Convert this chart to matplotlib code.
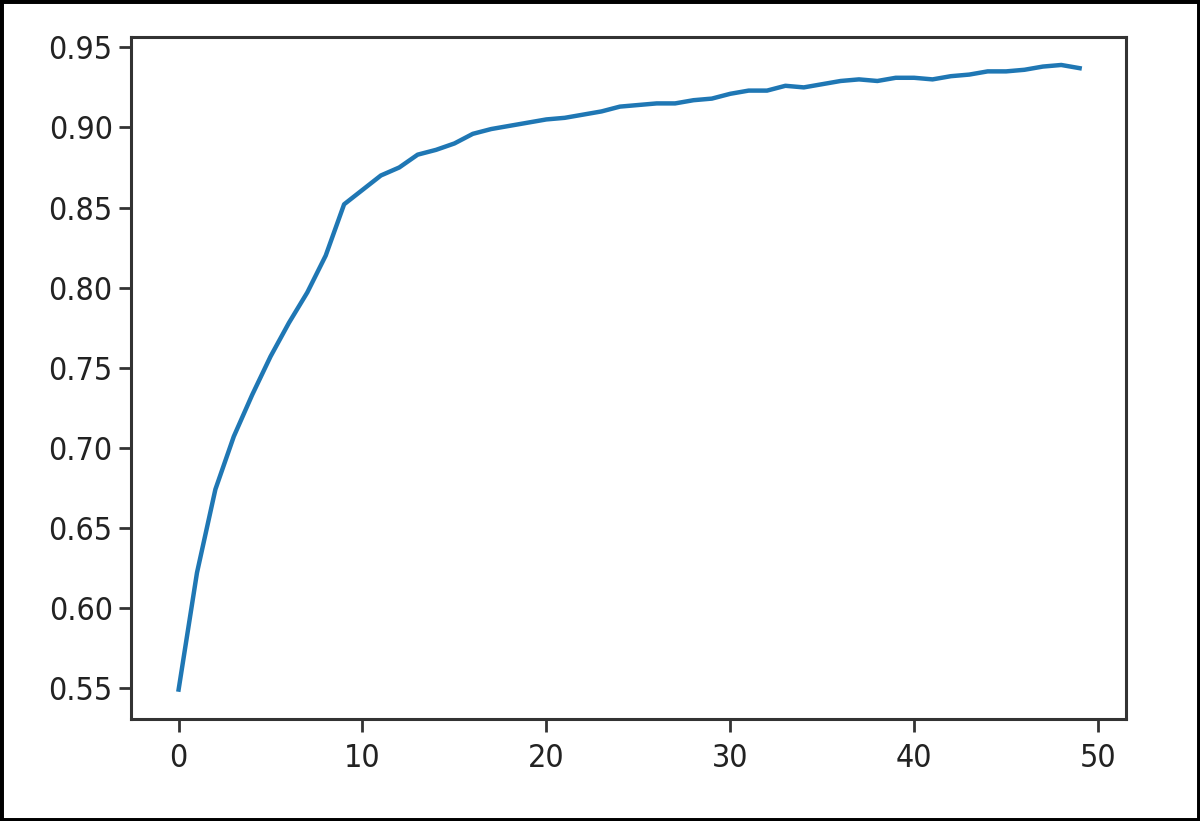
import matplotlib
matplotlib.use("Agg")
import matplotlib.pyplot as plt
from matplotlib.patches import Rectangle
from matplotlib import font_manager

# accuracy per epoch
epochs = list(range(50))
acc = [0.549, 0.622, 0.674, 0.707, 0.733, 0.757, 0.778, 0.797, 0.820, 0.852,
       0.861, 0.870, 0.875, 0.883, 0.886, 0.890, 0.896, 0.899, 0.901, 0.903,
       0.905, 0.906, 0.908, 0.910, 0.913, 0.914, 0.915, 0.915, 0.917, 0.918,
       0.921, 0.923, 0.923, 0.926, 0.925, 0.927, 0.929, 0.930, 0.929, 0.931,
       0.931, 0.930, 0.932, 0.933, 0.935, 0.935, 0.936, 0.938, 0.939, 0.937]
yticks = [0.55, 0.60, 0.65, 0.70, 0.75, 0.80, 0.85, 0.90, 0.95]
xticks = [0, 10, 20, 30, 40, 50]

# the screenshot's digits are narrower than plain DejaVu Sans
fp = font_manager.FontProperties(family="DejaVu Sans", stretch="condensed", size=23)
print(font_manager.findfont(fp))

fig = plt.figure(figsize=(12, 8.21), dpi=100)
ax = fig.add_axes([0.109, 0.124, 0.829, 0.831])

ax.plot(epochs, acc, color="#1f77b4", lw=3.2)

ax.set_xlim(-2.6, 51.5)
ax.set_ylim(0.5305, 0.9565)
ax.set_yticks(yticks)
ax.set_yticklabels(["%.2f" % v for v in yticks])
ax.set_xticks(xticks)

for s in ax.spines.values():
    s.set_linewidth(2.2)
    s.set_color("#333333")
ax.tick_params(axis="both", length=9, width=2, colors="#333333",
               labelcolor="#222222")
ax.tick_params(axis="x", pad=8)
ax.tick_params(axis="y", pad=4)
for lab in ax.get_xticklabels() + ax.get_yticklabels():
    lab.set_fontproperties(fp)

# black frame round the whole screenshot
fig.patches.append(Rectangle((0, 0), 1, 1, transform=fig.transFigure,
                             fill=False, edgecolor="black", lw=5))

fig.savefig("out.png", dpi=100)
